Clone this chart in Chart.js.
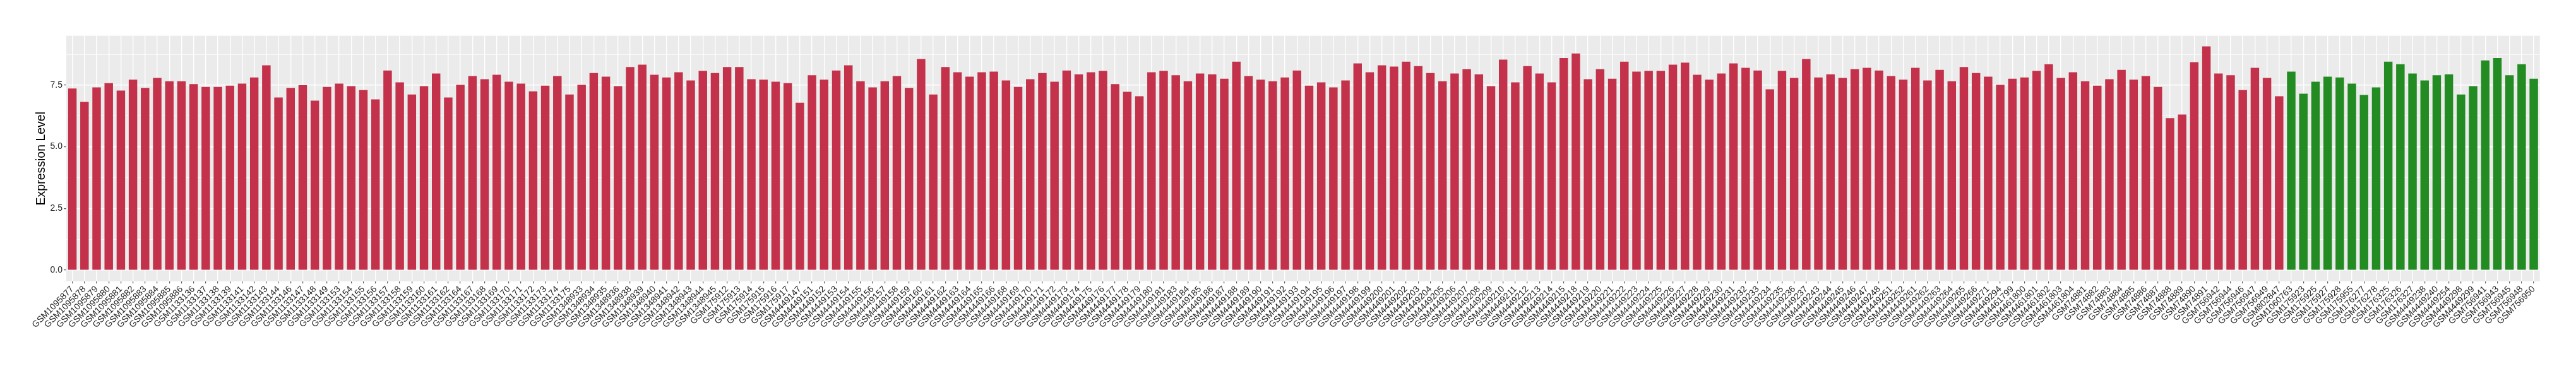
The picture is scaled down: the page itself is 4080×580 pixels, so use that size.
<!DOCTYPE html>
<html>
<head>
<meta charset="utf-8">
<script src="https://cdn.jsdelivr.net/npm/chart.js@4.4.1/dist/chart.umd.min.js"></script>
<style>
  html, body { margin: 0; padding: 0; background: #ffffff; }
  #wrap { width: 4080px; height: 580px; }
</style>
</head>
<body>
<div id="wrap"><canvas id="barChart" width="4080" height="580"></canvas></div>
<script>
// samples drawn in red
const redSamples = [
  "GSM1095877", "GSM1095878", "GSM1095879", "GSM1095880", "GSM1095881", "GSM1095882", "GSM1095883", "GSM1095884", "GSM1095885", "GSM1095886",
  "GSM1133136", "GSM1133137", "GSM1133138", "GSM1133139", "GSM1133141", "GSM1133142", "GSM1133143", "GSM1133144", "GSM1133146", "GSM1133147",
  "GSM1133148", "GSM1133149", "GSM1133153", "GSM1133154", "GSM1133155", "GSM1133156", "GSM1133157", "GSM1133158", "GSM1133159", "GSM1133160",
  "GSM1133161", "GSM1133162", "GSM1133164", "GSM1133167", "GSM1133168", "GSM1133169", "GSM1133170", "GSM1133171", "GSM1133172", "GSM1133173",
  "GSM1133174", "GSM1133175", "GSM1348933", "GSM1348934", "GSM1348935", "GSM1348936", "GSM1348938", "GSM1348939", "GSM1348940", "GSM1348941",
  "GSM1348942", "GSM1348943", "GSM1348944", "GSM1348945", "GSM175912", "GSM175913", "GSM175914", "GSM175915", "GSM175916", "GSM175917",
  "GSM4449147", "GSM4449151", "GSM4449152", "GSM4449153", "GSM4449154", "GSM4449155", "GSM4449156", "GSM4449157", "GSM4449158", "GSM4449159",
  "GSM4449160", "GSM4449161", "GSM4449162", "GSM4449163", "GSM4449164", "GSM4449165", "GSM4449166", "GSM4449168", "GSM4449169", "GSM4449170",
  "GSM4449171", "GSM4449172", "GSM4449173", "GSM4449174", "GSM4449175", "GSM4449176", "GSM4449177", "GSM4449178", "GSM4449179", "GSM4449180",
  "GSM4449181", "GSM4449183", "GSM4449184", "GSM4449185", "GSM4449186", "GSM4449187", "GSM4449188", "GSM4449189", "GSM4449190", "GSM4449191",
  "GSM4449192", "GSM4449193", "GSM4449194", "GSM4449195", "GSM4449196", "GSM4449197", "GSM4449198", "GSM4449199", "GSM4449200", "GSM4449201",
  "GSM4449202", "GSM4449203", "GSM4449204", "GSM4449205", "GSM4449206", "GSM4449207", "GSM4449208", "GSM4449209", "GSM4449210", "GSM4449211",
  "GSM4449212", "GSM4449213", "GSM4449214", "GSM4449215", "GSM4449218", "GSM4449219", "GSM4449220", "GSM4449221", "GSM4449222", "GSM4449223",
  "GSM4449224", "GSM4449225", "GSM4449226", "GSM4449227", "GSM4449228", "GSM4449229", "GSM4449230", "GSM4449231", "GSM4449232", "GSM4449233",
  "GSM4449234", "GSM4449235", "GSM4449236", "GSM4449237", "GSM4449243", "GSM4449244", "GSM4449245", "GSM4449246", "GSM4449247", "GSM4449248",
  "GSM4449251", "GSM4449252", "GSM4449261", "GSM4449262", "GSM4449263", "GSM4449264", "GSM4449265", "GSM4449266", "GSM4449271", "GSM4449294",
  "GSM4461799", "GSM4461800", "GSM4461801", "GSM4461802", "GSM4461803", "GSM4461804", "GSM74881", "GSM74882", "GSM74883", "GSM74884",
  "GSM74885", "GSM74886", "GSM74887", "GSM74888", "GSM74889", "GSM74890", "GSM74891", "GSM756942", "GSM756944", "GSM756946",
  "GSM756947", "GSM756949", "GSM802847"
];
const redValues = [
  7.36, 6.82, 7.41, 7.58, 7.28, 7.72, 7.39, 7.79, 7.66, 7.66,
  7.54, 7.43, 7.43, 7.48, 7.56, 7.81, 8.30, 7.00, 7.39, 7.50,
  6.87, 7.43, 7.56, 7.46, 7.30, 6.92, 8.09, 7.61, 7.12, 7.46,
  7.97, 7.00, 7.51, 7.87, 7.74, 7.92, 7.64, 7.56, 7.25, 7.48,
  7.87, 7.12, 7.51, 7.99, 7.84, 7.46, 8.23, 8.33, 7.92, 7.81,
  8.02, 7.69, 8.08, 7.99, 8.23, 8.23, 7.74, 7.72, 7.64, 7.58,
  6.79, 7.90, 7.72, 8.09, 8.30, 7.66, 7.41, 7.66, 7.87, 7.39,
  8.56, 7.12, 8.23, 8.02, 7.84, 8.02, 8.05, 7.69, 7.43, 7.74,
  7.99, 7.64, 8.09, 7.94, 8.02, 8.08, 7.54, 7.23, 7.05, 8.02,
  8.08, 7.90, 7.66, 7.97, 7.94, 7.76, 8.45, 7.87, 7.72, 7.66,
  7.81, 8.09, 7.48, 7.61, 7.41, 7.69, 8.38, 8.02, 8.30, 8.25,
  8.45, 8.27, 7.99, 7.66, 7.97, 8.15, 7.94, 7.46, 8.53, 7.61,
  8.27, 7.97, 7.61, 8.60, 8.78, 7.74, 8.15, 7.76, 8.45, 8.05,
  8.08, 8.08, 8.33, 8.41, 7.92, 7.72, 7.97, 8.38, 8.20, 8.09,
  7.33, 8.08, 7.79, 8.56, 7.81, 7.94, 7.79, 8.15, 8.20, 8.09,
  7.87, 7.72, 8.20, 7.69, 8.12, 7.66, 8.23, 7.99, 7.84, 7.51,
  7.76, 7.81, 8.08, 8.35, 7.79, 8.02, 7.66, 7.48, 7.74, 8.12,
  7.72, 7.87, 7.43, 6.16, 6.31, 8.43, 9.07, 7.97, 7.90, 7.30,
  8.20, 7.79, 7.05
];

// samples drawn in green
const greenSamples = [
  "GSM1060763", "GSM175923", "GSM175925", "GSM175927", "GSM175928", "GSM175955", "GSM176277", "GSM176278", "GSM176325", "GSM176326",
  "GSM176327", "GSM4449238", "GSM4449240", "GSM4449254", "GSM4449298", "GSM4449299", "GSM756941", "GSM756943", "GSM756945", "GSM756948",
  "GSM756950"
];
const greenValues = [
  8.05, 7.15, 7.64, 7.84, 7.81, 7.56, 7.10, 7.41, 8.45, 8.35,
  7.97, 7.69, 7.90, 7.94, 7.12, 7.46, 8.50, 8.60, 7.90, 8.35,
  7.76
];

const yTicks = [0, 2.5, 5, 7.5];
const yMinorTicks = [1.25, 3.75, 6.25, 8.75];

const RED = "#C3314A";
const GREEN = "#228B22";
const FONT = "'Liberation Sans', Arial, Helvetica, sans-serif";

const labels = redSamples.concat(greenSamples);
const values = redValues.concat(greenValues);
const colors = redSamples.map(() => RED).concat(greenSamples.map(() => GREEN));

// grey ggplot-style panel behind the bars
const panelBg = {
  id: "panelBg",
  beforeDraw(chart) {
    const a = chart.chartArea;
    const ctx = chart.ctx;
    ctx.save();
    ctx.fillStyle = "#EBEBEB";
    ctx.fillRect(a.left, a.top, a.right - a.left, a.bottom - a.top);
    ctx.restore();
  }
};

const isMinor = (v) => yMinorTicks.indexOf(v) !== -1;

const ctx = document.getElementById("barChart").getContext("2d");
new Chart(ctx, {
  type: "bar",
  data: {
    labels: labels,
    datasets: [{
      label: "Expression Level",
      data: values,
      backgroundColor: colors,
      borderWidth: 0,
      barPercentage: 0.7,
      categoryPercentage: 1.0
    }]
  },
  plugins: [panelBg],
  options: {
    responsive: false,
    animation: false,
    devicePixelRatio: 1,
    layout: { padding: { top: 56.7, right: 57.3, left: 0, bottom: 0 } },
    plugins: {
      legend: { display: false },
      tooltip: { enabled: false }
    },
    scales: {
      x: {
        offset: true,
        border: { display: false },
        grid: {
          offset: false,
          color: "#FFFFFF",
          lineWidth: 1.4,
          drawTicks: true,
          tickLength: 3.5,
          tickColor: "#333333",
          tickWidth: 1
        },
        ticks: {
          autoSkip: false,
          minRotation: 45,
          maxRotation: 45,
          padding: 1,
          color: "#222222",
          font: { family: FONT, size: 14 }
        },
        afterFit(scale) { scale.height = 580 - 445.7; }
      },
      y: {
        min: -0.45,
        max: 9.5,
        border: { display: false },
        afterBuildTicks(scale) {
          scale.ticks = yTicks.concat(yMinorTicks).sort((a, b) => a - b).map(v => ({ value: v }));
        },
        grid: {
          color: "#FFFFFF",
          lineWidth: (c) => isMinor(c.tick && c.tick.value) ? 0.7 : 1.4,
          drawTicks: true,
          tickLength: 4,
          tickWidth: 1,
          tickColor: (c) => isMinor(c.tick && c.tick.value) ? "rgba(0,0,0,0)" : "#333333"
        },
        ticks: {
          padding: 2,
          color: "#222222",
          font: { family: FONT, size: 14 },
          callback: (v) => isMinor(v) ? "" : v.toFixed(1)
        },
        title: {
          display: true,
          text: "Expression Level",
          color: "#000000",
          font: { family: FONT, size: 19.5 },
          padding: { top: 53.6, bottom: 0 }
        },
        afterFit(scale) { scale.width = 105; }
      }
    }
  }
});
</script>
</body>
</html>
